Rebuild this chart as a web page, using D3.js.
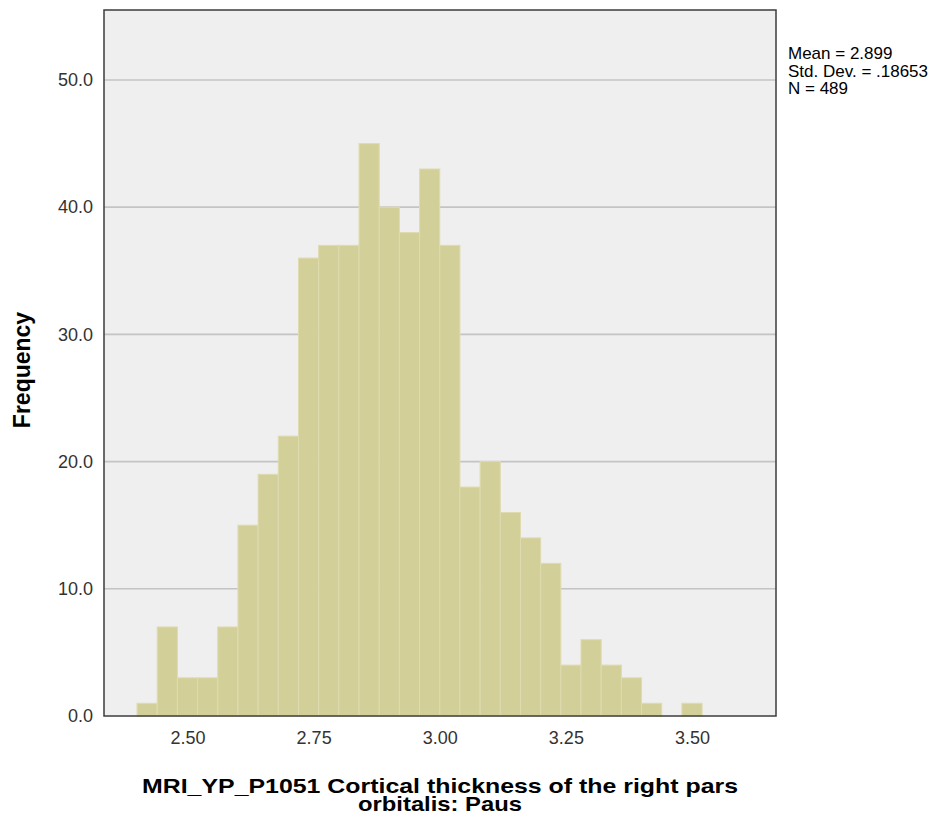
<!DOCTYPE html>
<html><head><meta charset="utf-8">
<script src="https://cdn.jsdelivr.net/npm/d3@7"></script>
<style>body{margin:0;background:#fff;} text{font-family:"Liberation Sans",Arial,sans-serif;}</style>
</head><body>
<script>
const binStarts = [2.40,2.44,2.48,2.52,2.56,2.60,2.64,2.68,2.72,2.76,2.80,2.84,2.88,2.92,2.96,3.00,3.04,3.08,3.12,3.16,3.20,3.24,3.28,3.32,3.36,3.40,3.44,3.48];
const counts = [1,7,3,3,7,15,19,22,36,37,37,45,40,38,43,37,18,20,16,14,12,4,6,4,3,1,0,1];
const binWidth = 0.04;
const xTicks = [2.50,2.75,3.00,3.25,3.50];
const yTicks = [0,10,20,30,40,50];
const statsLines = ["Mean = 2.899","Std. Dev. = .18653","N = 489"];
const xTitle = ["MRI_YP_P1051 Cortical thickness of the right pars","orbitalis: Paus"];
const yTitle = "Frequency";

const W=943,H=825;
const L=104,R=776,T=10,B=716;
const svg=d3.select("body").append("svg").attr("width",W).attr("height",H);
const x=d3.scaleLinear().domain([2.3345,3.6665]).range([L,R]);
const y=d3.scaleLinear().domain([0,55.5]).range([B,T]);
const FF="Liberation Sans,Arial,sans-serif";

svg.append("rect").attr("x",L).attr("y",T).attr("width",R-L).attr("height",B-T).attr("fill","#efefef");
svg.append("g").selectAll("line").data(yTicks.filter(d=>d>0)).join("line")
  .attr("x1",L).attr("x2",R).attr("y1",d=>y(d)).attr("y2",d=>y(d))
  .attr("stroke","#c4c4c4").attr("stroke-width",1.6);

const data=binStarts.map((s,i)=>({s,c:counts[i]})).filter(d=>d.c>0);
svg.append("g").selectAll("rect").data(data).join("rect")
  .attr("x",d=>x(d.s)).attr("width",d=>x(d.s+binWidth)-x(d.s))
  .attr("y",d=>y(d.c)).attr("height",d=>y(0)-y(d.c))
  .attr("fill","#d3cf98").attr("stroke","#dedbb0").attr("stroke-width",1);

svg.append("rect").attr("x",L).attr("y",T).attr("width",R-L).attr("height",B-T)
  .attr("fill","none").attr("stroke","#3c3c3c").attr("stroke-width",1.5);

const xa=svg.append("g").attr("transform",`translate(0,${B})`)
  .call(d3.axisBottom(x).tickValues(xTicks).tickFormat(d3.format(".2f")).tickSize(0).tickPadding(15));
xa.select(".domain").remove();
xa.selectAll("text").attr("font-size",18).attr("fill","#333").style("font-family",FF);

const ya=svg.append("g").attr("transform",`translate(${L},0)`)
  .call(d3.axisLeft(y).tickValues(yTicks).tickFormat(d3.format(".1f")).tickSize(0).tickPadding(11));
ya.select(".domain").remove();
ya.selectAll("text").attr("font-size",18).attr("fill","#333").style("font-family",FF);

svg.append("text").attr("transform",`translate(30,370) rotate(-90)`)
  .attr("text-anchor","middle").attr("font-size",23).attr("font-weight","bold").attr("fill","#000").text(yTitle);

const titleLen=[596,164];
const xt=svg.append("text").attr("text-anchor","middle")
  .attr("font-size",21).attr("font-weight","bold").attr("fill","#000");
xt.selectAll("tspan").data(xTitle).join("tspan")
  .attr("x",(L+R)/2).attr("y",(d,i)=>793+i*18)
  .attr("textLength",(d,i)=>titleLen[i]).attr("lengthAdjust","spacingAndGlyphs").text(d=>d);

const st=svg.append("text").attr("font-size",17).attr("fill","#000");
st.selectAll("tspan").data(statsLines).join("tspan")
  .attr("x",788).attr("y",(d,i)=>59+i*17.5).text(d=>d);
</script>
</body></html>
